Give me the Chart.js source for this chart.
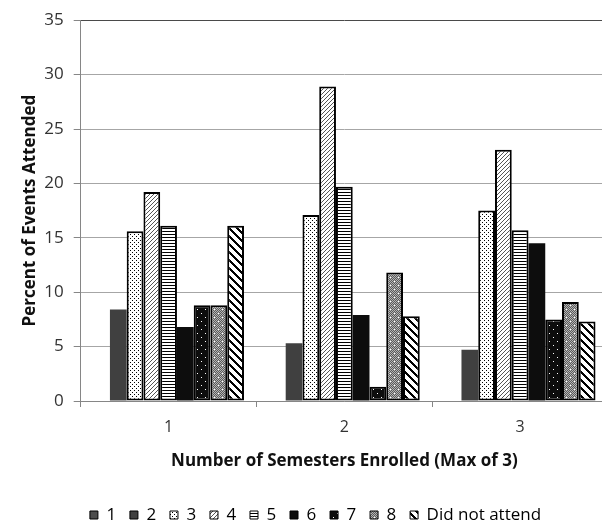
<!DOCTYPE html>
<html>
<head>
<meta charset="utf-8">
<script src="https://cdn.jsdelivr.net/npm/chart.js@4.4.1/dist/chart.umd.min.js"></script>
<style>
  html, body { margin: 0; padding: 0; background: #fff; overflow: hidden; }
  #wrap { width: 631px; height: 524px; }
</style>
</head>
<body>
<div id="wrap"><canvas id="c" width="631" height="524"></canvas></div>
<script>
// Semesters enrolled (categories) and percent of events attended per group
const categories = ['1', '2', '3'];
const seriesNames = ['1', '2', '3', '4', '5', '6', '7', '8', 'Did not attend'];
const s1 = [0, 0, 0];
const s2 = [8.4, 5.3, 4.7];
const s3 = [15.6, 17.1, 17.5];
const s4 = [19.2, 28.9, 23.1];
const s5 = [16.1, 19.7, 15.7];
const s6 = [6.8, 7.9, 14.5];
const s7 = [8.8, 1.3, 7.5];
const s8 = [8.8, 11.8, 9.1];
const sNone = [16.1, 7.8, 7.3];
const yTicks = [0, 5, 10, 15, 20, 25, 30, 35];

const ctx = document.getElementById('c').getContext('2d');

// Small tile patterns used as bar fills
function tile(size, paint) {
  const c = document.createElement('canvas');
  c.width = c.height = size;
  const g = c.getContext('2d');
  paint(g, size);
  return ctx.createPattern(c, 'repeat');
}
function px(g, x, y, col) { g.fillStyle = col; g.fillRect(x, y, 1, 1); }

const dotted = tile(4, (g, n) => {
  g.fillStyle = '#fff'; g.fillRect(0, 0, n, n);
  px(g, 0, 0, '#000'); px(g, 2, 2, '#000');
});
const upDiag = tile(4, (g, n) => {
  g.fillStyle = '#fff'; g.fillRect(0, 0, n, n);
  for (let i = 0; i < n; i++) px(g, i, n - 1 - i, '#555');
});
const horiz = tile(3, (g, n) => {
  g.fillStyle = '#fff'; g.fillRect(0, 0, n, n);
  g.fillStyle = '#000'; g.fillRect(0, 0, n, 1);
});
const blackDots = tile(8, (g, n) => {
  g.fillStyle = '#0d0d0d'; g.fillRect(0, 0, n, n);
  px(g, 1, 1, '#fff'); px(g, 5, 5, '#fff');
});
const grayDots = tile(8, (g, n) => {
  for (let y = 0; y < n; y++) for (let x = 0; x < n; x++) px(g, x, y, (x + y) % 2 ? '#5a5a5a' : '#b4b4b4');
  px(g, 2, 1, '#fff'); px(g, 6, 5, '#fff');
});
const downWide = tile(8, (g, n) => {
  for (let y = 0; y < n; y++) for (let x = 0; x < n; x++) {
    px(g, x, y, ((x - y + 16) % 8) < 3 ? '#000' : '#fff');
  }
});

const fills = ['#4d4d4d', '#404040', dotted, upDiag, horiz, '#0d0d0d', blackDots, grayDots, downWide];
const outlined = [false, false, true, true, true, false, true, true, true];
const values = [s1, s2, s3, s4, s5, s6, s7, s8, sNone];

const datasets = seriesNames.map((name, i) => ({
  label: name,
  data: values[i],
  backgroundColor: fills[i],
  borderColor: outlined[i] ? '#000' : fills[i],
  borderWidth: outlined[i] ? 2 : 0,
  borderSkipped: false,
  barPercentage: 1,
  categoryPercentage: 0.858
}));

const FONT = '"Open Sans", "DejaVu Sans", sans-serif';

new Chart(ctx, {
  type: 'bar',
  data: { labels: categories, datasets },
  options: {
    responsive: false,
    animation: false,
    events: [],
    layout: { padding: { top: 14, left: 0, right: 0, bottom: 0 } },
    plugins: {
      tooltip: { enabled: false },
      legend: {
        position: 'bottom',
        maxHeight: 31.3,
        labels: {
          font: { family: FONT, size: 17 },
          color: '#111',
          boxWidth: 8,
          boxHeight: 8,
          padding: 13.8,
          generateLabels: (chart) => chart.data.datasets.map((d, i) => ({
            text: d.label,
            fillStyle: d.backgroundColor,
            strokeStyle: '#000',
            lineWidth: 1,
            hidden: false,
            datasetIndex: i
          }))
        }
      }
    },
    scales: {
      x: {
        grid: { offset: true, drawOnChartArea: false, drawTicks: true, tickLength: 6, color: '#868686' },
        border: { color: '#868686', width: 1 },
        ticks: { font: { family: FONT, size: 16 }, color: '#333', padding: 11 },
        title: {
          display: true,
          text: 'Number of Semesters Enrolled (Max of 3)',
          font: { family: FONT, size: 17, weight: 'bold' },
          color: '#111',
          padding: { top: 0, bottom: 21.5 }
        },
        afterFit: (s) => { s.height = 91.7; }
      },
      y: {
        min: 0,
        max: 35,
        afterBuildTicks: (s) => { s.ticks = yTicks.map(v => ({ value: v })); },
        grid: {
          color: (c) => (c.tick && c.tick.value === 35 ? '#4a4a4a' : '#a6a6a6'),
          tickColor: '#868686',
          tickLength: 7,
          lineWidth: 1
        },
        border: { color: '#868686', width: 1 },
        ticks: { font: { family: FONT, size: 17 }, color: '#333', padding: 10 },
        title: {
          display: true,
          text: 'Percent of Events Attended',
          font: { family: FONT, size: 17, weight: 'bold' },
          color: '#111',
          padding: { top: 19.8, bottom: 0 }
        },
        afterFit: (s) => { s.width = 80.7; }
      },
      yRight: {
        position: 'right',
        display: true,
        grid: { display: false },
        border: { display: false },
        ticks: { display: false },
        afterFit: (s) => { s.width = 23; }
      }
    }
  }
});
</script>
</body>
</html>
